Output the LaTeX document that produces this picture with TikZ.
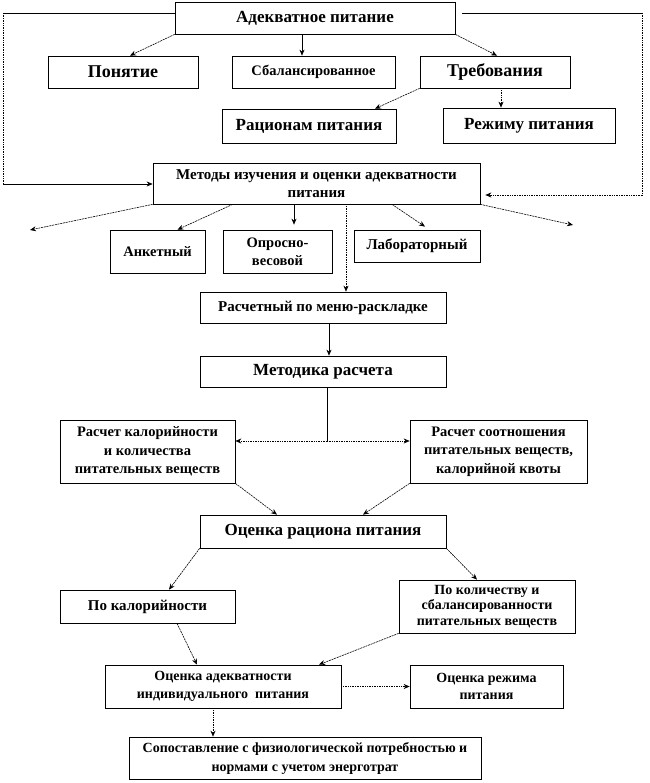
\documentclass[tikz,border=0pt]{standalone}
\usepackage{fontspec}
\setmainfont{Liberation Serif}
\usetikzlibrary{arrows.meta,calc}
\tikzset{
  box/.style={draw, line width=0.7pt, align=center, inner sep=1pt},
  fsz/.style 2 args={font=\bfseries\fontsize{#1}{#2}\selectfont},
  sarr/.style={draw, line width=0.6pt, -{Stealth[length=6pt,width=5pt]}},
  darr/.style={draw, line width=0.6pt, dash pattern=on 2pt off 0.8pt, -{Stealth[length=6pt,width=5pt]}},
  dtarr/.style={draw, line width=0.6pt, dash pattern=on 1pt off 0.7pt, -{Stealth[length=6pt,width=5pt]}},
  dline/.style={draw, line width=0.7pt, dash pattern=on 1pt off 0.7pt},
  sline/.style={draw, line width=0.7pt},
}
\begin{document}
\begin{tikzpicture}[x=1pt,y=-1pt]
\useasboundingbox (0,0) rectangle (649,783);
% boxes
\node[box, fsz={17}{20}, minimum width=280pt, minimum height=32pt] (top) at (315,18) {Адекватное питание};
\node[box, fsz={18}{20}, minimum width=150pt, minimum height=32pt] (pon) at (123,72) {Понятие};
\node[box, fsz={14.5}{18}, minimum width=163pt, minimum height=32pt] (sbal) at (313.5,72) {Сбалансированное};
\node[box, fsz={18}{20}, minimum width=150pt, minimum height=32pt] (treb) at (495,72) {Требования};
\node[box, fsz={17}{20}, minimum width=174pt, minimum height=34pt] (rac) at (309,126) {Рационам питания};
\node[box, fsz={17}{20}, minimum width=172pt, minimum height=35pt] (rezh) at (529,125.5) {Режиму питания};
\node[box, fsz={15}{18}, minimum width=327pt, minimum height=41pt] (met) at (316.5,183.5) {Методы изучения и оценки адекватности\\питания};
\node[box, fsz={14.5}{18}, minimum width=95pt, minimum height=43pt] (ank) at (157.5,251.5) {Анкетный};
\node[box, fsz={14.5}{18}, minimum width=109pt, minimum height=43pt] (opr) at (277.5,251.5) {Опросно-\\весовой};
\node[box, fsz={15}{18}, minimum width=126pt, minimum height=32pt] (lab) at (417,246) {Лабораторный};
\node[box, fsz={15}{18}, minimum width=246pt, minimum height=31pt] (rasch) at (323,307.5) {Расчетный по меню-раскладке};
\node[box, fsz={17}{20}, minimum width=246pt, minimum height=31pt] (metod) at (323,371.5) {Методика расчета};
\node[box, fsz={14.5}{18.5}, minimum width=175pt, minimum height=63pt] (rl) at (147.5,451.5) {Расчет калорийности\\и количества\\питательных веществ};
\node[box, fsz={14.5}{18.5}, minimum width=177pt, minimum height=63pt] (rr) at (498.5,451.5) {Расчет соотношения\\питательных веществ,\\калорийной квоты};
\node[box, fsz={17}{20}, minimum width=246pt, minimum height=33pt] (ocen) at (323,531.5) {Оценка рациона питания};
\node[box, fsz={15}{18}, minimum width=175pt, minimum height=33pt] (pokal) at (147.5,606.5) {По калорийности};
\node[box, fsz={14}{15.5}, minimum width=176pt, minimum height=53pt] (pokol) at (487,606.5) {По количеству и\\сбалансированности\\питательных веществ};
\node[box, fsz={14}{17.5}, minimum width=236pt, minimum height=43pt] (ocad) at (223,686.5) {Оценка адекватности\\индивидуального\ \ питания};
\node[box, fsz={14}{17.5}, minimum width=153pt, minimum height=43pt] (ocrezh) at (486.5,686.5) {Оценка режима\\питания};
\node[box, fsz={14}{19}, minimum width=352pt, minimum height=42pt] (sop) at (305,758) {Сопоставление с физиологической потребностью и\\нормами с учетом энерготрат};
% coordinates
\coordinate (lc1) at (3,13);
\coordinate (lc2) at (3,184);
\coordinate (rc1) at (642,13);
\coordinate (rc2) at (642,195);
\coordinate (ml) at (30,230);
\coordinate (mr) at (573,225);
\coordinate (mj) at (327,441);
% top connectors
\draw[darr] (top.south west) -- ([xshift=7pt]pon.north);
\draw[sarr] ([xshift=-13pt]top.south) -- ([xshift=-11.5pt]sbal.north);
\draw[darr] (top.south east) -- ([xshift=2pt]treb.north);
\draw[darr] (treb.south west) -- ([xshift=66pt]rac.north);
\draw[dtarr] ([xshift=6pt]treb.south) -- ([xshift=-28pt]rezh.north);
% loops
\draw[sline] ([yshift=5pt]top.west) -- (lc1);
\draw[dline] (lc1) -- (lc2);
\draw[sarr] (lc2) -- (lc2 -| met.west);
\draw[sline] ([xshift=7pt,yshift=5pt]top.east) -- (rc1);
\draw[dline] (rc1) -- (rc2);
\draw[dtarr] (rc2) -- ($(rc2 -| met.east)+(5,0)$);
% methods
\draw[darr] (met.south west) -- (ml);
\draw[darr] (met.south east) -- (mr);
\draw[darr] ([xshift=80pt]met.south west) -- ([xshift=20pt]ank.north);
\draw[sarr] ([xshift=-22.5pt]met.south) -- ([xshift=16.5pt,yshift=5pt]opr.north);
\draw[dtarr] ([xshift=29.5pt]met.south) -- ([xshift=23pt]rasch.north);
\draw[darr] ([xshift=75.5pt]met.south) -- ([xshift=8pt,yshift=3pt]lab.north);
% calculation
\draw[sarr] ([xshift=6pt]rasch.south) -- ([xshift=6pt]metod.north);
\draw[sline] ([xshift=4pt]metod.south) -- (mj);
\draw[dtarr] (mj) -- (mj -| rl.east);
\draw[dtarr] (mj) -- (mj -| rr.west);
\draw[darr] (rl.south east) -- ([xshift=-46pt]ocen.north);
\draw[darr] (rr.south west) -- ([xshift=40pt]ocen.north);
% evaluation
\draw[darr] (ocen.south west) -- ([xshift=21.5pt]pokal.north);
\draw[darr] (ocen.south east) -- ([xshift=-10pt]pokol.north);
\draw[darr] ([xshift=29.5pt]pokal.south) -- ([xshift=-26pt]ocad.north);
\draw[darr] (pokol.south west) -- ([xshift=96pt]ocad.north);
\draw[dtarr] (ocad.east) -- (ocrezh.west);
\draw[dtarr] ([xshift=-10pt]ocad.south) -- ([xshift=-92pt]sop.north);
\end{tikzpicture}
\end{document}
